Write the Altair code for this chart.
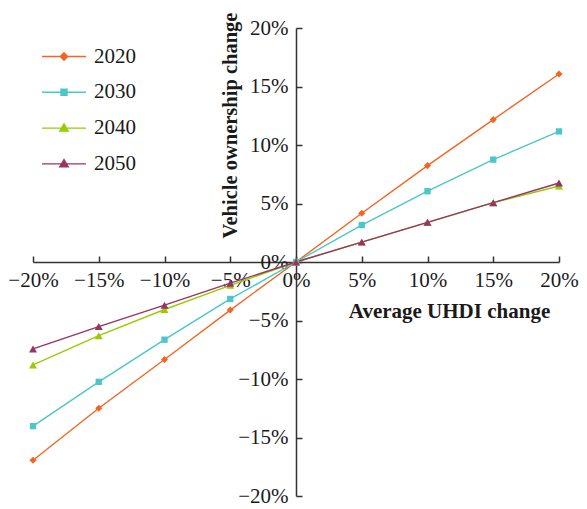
import altair as alt
import pandas as pd

years = ["2020", "2030", "2040", "2050"]
uhdi_change = [-0.20, -0.15, -0.10, -0.05, 0.0, 0.05, 0.10, 0.15, 0.20]
v2020 = [-0.1695, -0.125, -0.0833, -0.0411, 0.0, 0.0417, 0.0824, 0.1217, 0.1607]
v2030 = [-0.1403, -0.1024, -0.0664, -0.0316, 0.0, 0.0316, 0.0605, 0.0875, 0.1116]
v2040 = [-0.088, -0.063, -0.0406, -0.020, 0.0, 0.0170, 0.0339, 0.0507, 0.0650]
v2050 = [-0.0743, -0.0552, -0.0369, -0.0181, 0.0, 0.0170, 0.0339, 0.0507, 0.0675]
colors = ["#f26522", "#4cc6c8", "#99cc00", "#993366"]
axis_ticks = [-0.20, -0.15, -0.10, -0.05, 0.0, 0.05, 0.10, 0.15, 0.20]

rows = []
for yr, vals in zip(years, [v2020, v2030, v2040, v2050]):
    for x, y in zip(uhdi_change, vals):
        rows.append({"year": yr, "uhdi": x, "veh": y})
df = pd.DataFrame(rows)

W, H = 526, 468
FONT = "Liberation Serif"

# legend symbols: a short line with the series marker on it
legend_paths = [
    "M-2.2,0L2.2,0M0,-0.37L0.37,0L0,0.37L-0.37,0Z",
    "M-2.2,0L2.2,0M-0.3,-0.3L0.3,-0.3L0.3,0.3L-0.3,0.3Z",
    "M-2.2,0L2.2,0M0,-0.42L0.42,0.3L-0.42,0.3Z",
    "M-2.2,0L2.2,0M0,-0.42L0.42,0.3L-0.42,0.3Z",
]

xscale = alt.Scale(domain=[-0.2, 0.2], nice=False, zero=False)
yscale = alt.Scale(domain=[-0.2, 0.2], nice=False, zero=False)

x_enc = alt.X(
    "uhdi:Q",
    scale=xscale,
    axis=alt.Axis(
        orient="top",
        offset=-H / 2,
        values=axis_ticks,
        format=".0%",
        title="Average UHDI change",
        titleFont=FONT,
        titleFontSize=21,
        titleFontWeight="bold",
        titleColor="#1a1a1a",
        titleX=416,
        titleY=49,
        titleAlign="center",
        titleBaseline="middle",
        titleAngle=0,
        labelPadding=-24,
        labelBaseline="middle",
        labelFlush=False,
        labelOverlap=False,
        tickSize=6,
    ),
)
y_enc = alt.Y(
    "veh:Q",
    scale=yscale,
    axis=alt.Axis(
        orient="right",
        offset=-W / 2,
        values=axis_ticks,
        format=".0%",
        title="Vehicle ownership change",
        titleFont=FONT,
        titleFontSize=20.5,
        titleFontWeight="bold",
        titleColor="#1a1a1a",
        titleX=-66,
        titleY=97,
        titleAngle=270,
        titleAlign="center",
        titleBaseline="middle",
        labelPadding=-14,
        labelAlign="right",
        labelBaseline="middle",
        labelFlush=False,
        labelOverlap=False,
        tickSize=6,
    ),
)

def make_legend():
    return alt.Legend(
        title=None,
        orient="none",
        legendX=20,
        legendY=17.5,
        padding=0,
        symbolSize=400,
        symbolStrokeWidth=1.4,
        symbolOpacity=1,
        rowPadding=14.8,
        labelOffset=19,
        labelFont=FONT,
        labelFontSize=21,
        labelColor="#1a1a1a",
    )

color_no_legend = alt.Color("year:N", scale=alt.Scale(domain=years, range=colors), legend=None)

lines = alt.Chart(df).mark_line(strokeWidth=1.4).encode(
    x=x_enc, y=y_enc, color=color_no_legend, detail="year:N"
)

def marker_layer(sel_years, shape, size):
    return (
        alt.Chart(df)
        .transform_filter(alt.FieldOneOfPredicate(field="year", oneOf=sel_years))
        .mark_point(filled=True, opacity=1, shape=shape, size=size)
        .encode(
            x=alt.X("uhdi:Q", scale=xscale),
            y=alt.Y("veh:Q", scale=yscale),
            color=color_no_legend,
        )
    )

pts_2020 = marker_layer(["2020"], "diamond", 50)
pts_2030 = marker_layer(["2030"], "square", 40)
pts_tri = marker_layer(["2040", "2050"], "triangle-up", 64)

# legend-only layer (its marks are fully transparent)
legend_layer = (
    alt.Chart(df)
    .mark_point(filled=False, opacity=0, size=400, strokeWidth=1.4)
    .encode(
        x=alt.X("uhdi:Q", scale=xscale),
        y=alt.Y("veh:Q", scale=yscale),
        fill=alt.Fill("year:N", scale=alt.Scale(domain=years, range=colors), legend=make_legend()),
        stroke=alt.Stroke("year:N", scale=alt.Scale(domain=years, range=colors), legend=make_legend()),
        shape=alt.Shape("year:N", scale=alt.Scale(domain=years, range=legend_paths), legend=make_legend()),
    )
)

chart = (
    alt.layer(legend_layer, lines, pts_2020, pts_2030, pts_tri)
    .properties(
        width=W,
        height=H,
        autosize=alt.AutoSizeParams(type="none"),
        padding={"left": 25, "top": 20, "right": 20, "bottom": 11},
        background="white",
    )
    .configure_view(stroke=None)
    .configure_axis(
        grid=False,
        domainColor="#333333",
        domainWidth=1.5,
        tickColor="#333333",
        tickWidth=1.5,
        labelFont=FONT,
        labelFontSize=21,
        labelColor="#1a1a1a",
    )
)

chart.save("out.html", embed_options={"renderer": "svg", "actions": False})
